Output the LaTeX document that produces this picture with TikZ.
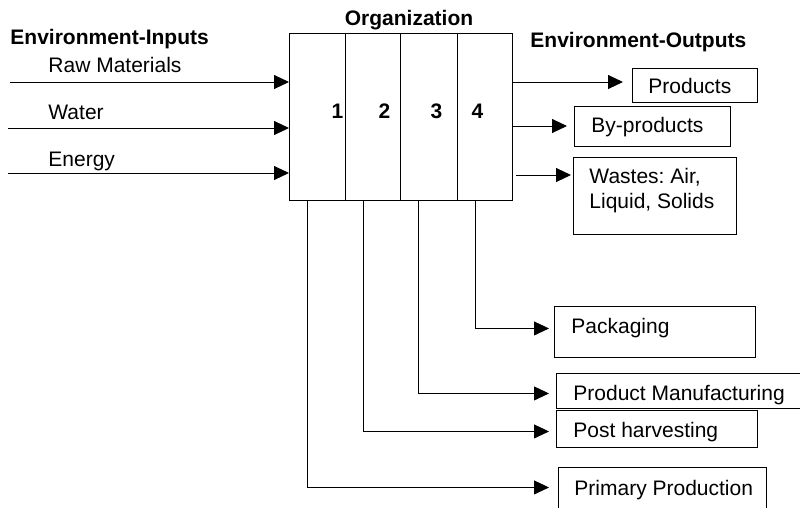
\documentclass[tikz,border=0pt]{standalone}
\usepackage{fontspec}
\setmainfont{Liberation Sans}
\usetikzlibrary{arrows.meta}
\frenchspacing
\begin{document}
\begin{tikzpicture}[x=1pt,y=-1pt,line width=0.9pt,
  every node/.style={inner sep=0pt,font=\fontsize{21}{25}\selectfont},
  txt/.style={anchor=base west},
  btxt/.style={anchor=base west,font=\fontsize{21}{25}\selectfont\bfseries},
  num/.style={anchor=base,font=\fontsize{21}{25}\selectfont\bfseries},
  box/.style={draw,anchor=north west,minimum width=#1},
  arr/.style={-{Triangle[length=15pt,width=14pt]}}]
\useasboundingbox (0,0) rectangle (800,507);
% organization columns
\node[box=56,minimum height=167] (org1) at (289,33) {};
\node[box=55,minimum height=167] (org2) at (345,33) {};
\node[box=57,minimum height=167] (org3) at (400,33) {};
\node[box=55,minimum height=167] (org4) at (457,33) {};
\node[num] (n1) at (337.5,118) {1};
\node[num] (n2) at (384.5,118) {2};
\node[num] (n3) at (436.5,118) {3};
\node[num] (n4) at (477.5,118) {4};
\node[num] (orgt) at (409,25) {Organization};
% inputs
\node[btxt] (envin) at (10,44) {Environment-Inputs};
\node[txt] (lraw) at (48,72) {Raw Materials};
\node[txt] (lwat) at (48,119) {Water};
\node[txt] (lene) at (48,166) {Energy};
\coordinate (iraw) at (10,82);
\coordinate (iwat) at (8,128);
\coordinate (iene) at (8,173);
\draw[arr] (iraw) -- (iraw -| org1.west);
\draw[arr] (iwat) -- (iwat -| org1.west);
\draw[arr] (iene) -- (iene -| org1.west);
% outputs
\node[btxt] (envout) at (530,47) {Environment-Outputs};
\node[box=125,minimum height=34] (prod) at (632,68) {};
\node[txt] at (648,93) {Products};
\node[box=156,minimum height=40] (byp) at (574,106) {};
\node[txt] at (591,132) {By-products};
\node[box=163,minimum height=77] (wast) at (573,157) {};
\node[txt] at (589,183) {Wastes: Air,};
\node[txt] at (589,208) {Liquid, Solids};
\coordinate (oprod) at (512,82);
\coordinate (obyp) at (512,126);
\coordinate (owast) at (516,175);
\draw[arr,shorten >=9pt] (oprod) -- (oprod -| prod.west);
\draw[arr,shorten >=7pt] (obyp) -- (obyp -| byp.west);
\draw[arr,shorten >=2pt] (owast) -- (owast -| wast.west);
% stages
\node[box=201,minimum height=51] (pack) at (554,306) {};
\node[txt] at (571,333) {Packaging};
\node[box=274,minimum height=35] (pman) at (556,373) {};
\node[txt] at (573,400) {Product Manufacturing};
\node[box=201,minimum height=37] (post) at (556,410) {};
\node[txt] at (573,437) {Post harvesting};
\node[box=208,minimum height=63] (prim) at (558,467) {};
\node[txt] at (574,495) {Primary Production};
\draw[arr,shorten >=5pt] ([xshift=18.5pt]org4.south west) |- ([yshift=3.5pt]pack.west);
\draw[arr,shorten >=7pt] ([xshift=18.5pt]org3.south west) |- ([yshift=-2.5pt]pman.west);
\draw[arr,shorten >=7pt] ([xshift=18.5pt]org2.south west) |- ([yshift=-2.5pt]post.west);
\draw[arr,shorten >=9pt] ([xshift=18.5pt]org1.south west) |- ([yshift=11.5pt]prim.west);
\end{tikzpicture}
\end{document}
